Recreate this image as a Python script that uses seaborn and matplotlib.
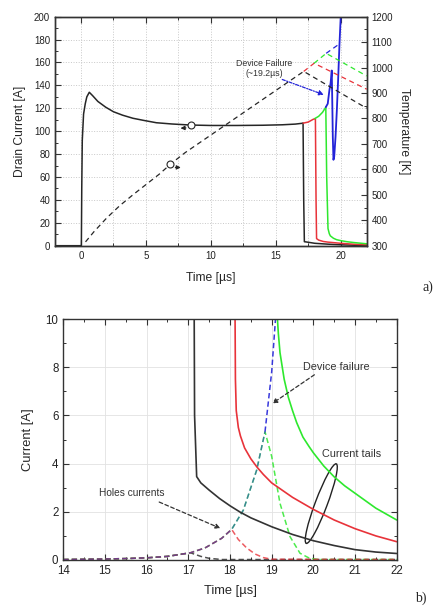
import numpy as np
import seaborn as sns
import matplotlib
matplotlib.use("Agg")
import matplotlib.pyplot as plt
from matplotlib.patches import Ellipse
from matplotlib.transforms import ScaledTranslation
from matplotlib.ticker import MultipleLocator

# ---- panel a) drain current [A] ----
t_on = [-2, 0, 0.03, 0.06, 0.1, 0.2, 0.33, 0.45, 0.64, 0.9, 1.3, 1.9, 2.5, 3.2, 4.0,
        4.8, 5.8, 7.0, 8.4, 10, 12, 14, 15.5, 16.5, 17.1]
i_on = [0, 0, 0, 50, 92, 115, 124, 130, 134, 131, 126, 121, 117, 114, 111.3,
        109.5, 107.4, 106.3, 105.4, 105, 105, 105.2, 105.6, 106.2, 107]
t_blk = [17.1, 17.15, 17.2, 17.5, 18, 19, 20, 21, 22]
i_blk = [107, 40, 3.5, 3.0, 2.1, 1.35, 0.8, 0.42, 0.27]
t_red = [17.1, 17.5, 17.9, 18.05, 18.1, 18.14, 18.3, 18.65, 19, 20, 21, 22]
i_red = [107, 108, 110.5, 111, 40, 6.2, 4.9, 3.7, 3.15, 2.1, 1.3, 0.76]
t_grn = [18.0, 18.3, 18.6, 18.85, 18.92, 19.02, 19.12, 19.2, 19.44, 19.68, 20, 20.5, 21, 22]
i_grn = [111, 113, 116.5, 121, 60, 15, 10.5, 8.6, 6.5, 5.26, 4.43, 3.45, 2.77, 1.66]
t_blu = [18.85, 19.0, 19.13, 19.22, 19.27, 19.31, 19.35, 19.39, 19.44, 19.5, 19.6,
         19.7, 19.8, 19.9, 20.0, 20.05]
i_blu = [121, 124, 136, 142, 148, 153, 125, 95, 75, 78, 95, 118, 145, 175, 200, 215]

# ---- panel a) temperature [K] ----
t_tk = [0.35, 1, 2, 3, 4, 5, 6, 7, 8, 9, 10, 11, 12, 13, 14, 15, 16, 17.15, 22]
T_k = [315, 355, 410, 458, 500, 540, 580, 625, 665, 700, 735, 770, 805, 840, 875,
       910, 945, 985, 840]
t_tr = [17.15, 17.95, 22]
T_r = [985, 1017, 915]
t_tg = [17.95, 18.88, 22]
T_g = [1017, 1056, 967]
t_tb = [18.88, 19.95]
T_b = [1056, 1095]

# ---- panel b) current tails [A] ----
tb_blk = [17.14, 17.15, 17.2, 17.3, 17.5, 17.75, 18, 18.25, 18.5, 19, 19.5, 20, 20.5,
          21, 21.5, 22]
ib_blk = [10.5, 6, 3.46, 3.2, 2.9, 2.55, 2.25, 1.98, 1.75, 1.38, 1.06, 0.8, 0.6,
          0.43, 0.33, 0.27]
tb_red = [18.12, 18.13, 18.15, 18.2, 18.25, 18.35, 18.5, 18.65, 18.8, 19, 19.25, 19.5,
          20, 20.5, 21, 21.5, 22]
ib_red = [10.5, 7.5, 6.2, 5.5, 5.15, 4.65, 4.2, 3.85, 3.55, 3.2, 2.9, 2.6, 2.1,
          1.66, 1.3, 1.0, 0.76]
tb_grn = [19.12, 19.16, 19.2, 19.3, 19.4, 19.5, 19.6, 19.75, 19.9, 20, 20.25, 20.5,
          20.75, 21, 21.5, 22]
ib_grn = [10.5, 9.4, 8.6, 7.5, 6.75, 6.2, 5.7, 5.1, 4.7, 4.45, 3.9, 3.45, 3.08, 2.77,
          2.15, 1.66]

# holes currents (dashed)
th_rise = [14, 15, 15.5, 16, 16.5, 17.05]
ih_rise = [0.02, 0.04, 0.06, 0.09, 0.15, 0.3]
th_blk = [17.3, 17.5, 17.8, 22]
ih_blk = [0.15, 0.07, 0.02, 0.02]
th_red = [17.4, 17.8, 18.04, 18.2, 18.4, 18.6, 18.8, 19.0, 22]
ih_red = [0.5, 0.9, 1.27, 0.85, 0.5, 0.25, 0.1, 0.03, 0.02]
th_grn = [18.32, 18.64, 18.84, 19.0, 19.2, 19.44, 19.68, 19.9, 20.1, 22]
ih_grn = [2.07, 3.73, 5.32, 4.3, 2.35, 0.97, 0.28, 0.08, 0.02, 0.02]
th_blu = [19.0, 19.1]
ih_blu = [7.8, 10.2]

BLK, RED, GRN, BLU = "#262626", "#e8333a", "#2ee82e", "#2323d8"

sns.set_style("ticks")
plt.rcParams["font.family"] = ["Liberation Sans", "DejaVu Sans"]
plt.rcParams["xtick.direction"] = "in"
plt.rcParams["ytick.direction"] = "in"

fig = plt.figure(figsize=(4.34, 6.06), dpi=100)


def line(ax, x, y, color, lw=1.1, ls="-", alpha=1.0, dashes=None):
    sns.lineplot(x=x, y=y, ax=ax, color=color, lw=lw, linestyle=ls, alpha=alpha,
                 estimator=None, sort=False, errorbar=None)
    if dashes is not None:
        ax.lines[-1].set_dashes(dashes)


def frame(ax, fs):
    for s in ax.spines.values():
        s.set_color("#333333")
        s.set_linewidth(1.0)
    ax.tick_params(which="both", color="#333333", labelsize=fs, labelcolor="#222222")
    ax.tick_params(which="major", length=4, width=0.8)
    ax.tick_params(which="minor", length=2, width=0.7)


# ================= panel a =================
ax = fig.add_axes([55 / 434, 1 - 245.7 / 606, 311.7 / 434, 229 / 606])
ax2 = ax.twinx()

line(ax, t_on, i_on, BLK)
line(ax, t_blk, i_blk, BLK)
line(ax, t_red, i_red, RED)
line(ax, t_grn, i_grn, GRN)
line(ax, t_blu, i_blu, BLU, lw=1.3)

dash_a = (4, 3)
line(ax2, t_tk, T_k, BLK, lw=0.9, dashes=dash_a)
line(ax2, t_tr, T_r, RED, lw=0.9, dashes=dash_a)
line(ax2, t_tg, T_g, GRN, lw=0.9, dashes=dash_a)
line(ax2, t_tb, T_b, BLU, lw=0.9, dashes=dash_a)

ax.set_xlim(-2, 22)
ax.set_ylim(0, 200)
ax2.set_ylim(300, 1200)
ax.xaxis.set_major_locator(MultipleLocator(5))
ax.xaxis.set_minor_locator(MultipleLocator(2.5))
ax.yaxis.set_major_locator(MultipleLocator(20))
ax.yaxis.set_minor_locator(MultipleLocator(10))
ax2.yaxis.set_major_locator(MultipleLocator(100))
ax2.yaxis.set_minor_locator(MultipleLocator(50))
ax.tick_params(which="both", top=True)
ax.grid(True, which="both", axis="x", color="#c8c8c8", ls=":", lw=0.7)
ax.grid(True, which="major", axis="y", color="#c8c8c8", ls=":", lw=0.7)
frame(ax, 7)
frame(ax2, 7)
ax.set_xlabel("Time [\u00b5s]", fontsize=8.7, labelpad=8)
ax.set_ylabel("Drain Current [A]", fontsize=8.7, labelpad=6)
ax2.set_ylabel("Temperature [K]", fontsize=8.7, rotation=270, labelpad=12)

# circle markers with direction arrows
ax.plot([8.5], [105.4], "o", ms=5, mfc="white", mec=BLK, mew=0.8)
ax.annotate("", xy=(7.45, 102.5), xytext=(8.3, 103.0),
            arrowprops=dict(arrowstyle="-|>", color=BLK, lw=0.8, mutation_scale=6))
ax2.plot([6.86], [621], "o", ms=5, mfc="white", mec=BLK, mew=0.8)
ax2.annotate("", xy=(7.9, 607), xytext=(7.05, 608),
             arrowprops=dict(arrowstyle="-|>", color=BLK, lw=0.8, mutation_scale=6))

ax.text(14.1, 155, "Device Failure\n(~19.2\u00b5s)", fontsize=6.3, ha="center",
        va="center", color="#333333", linespacing=1.1)
ax.annotate("", xy=(18.9, 131), xytext=(15.3, 146),
            arrowprops=dict(arrowstyle="-|>", color=BLU, lw=0.9, ls=(0, (2.5, 1.2, 0.8, 1.2)),
                            mutation_scale=7))

# ================= panel b =================
bx = fig.add_axes([63.3 / 434, 1 - 560 / 606, 333.4 / 434, 241 / 606])

dash_b = (3.5, 2)
line(bx, th_rise + th_blk, ih_rise + ih_blk, BLK, lw=1.1, alpha=0.8, dashes=dash_b)
line(bx, th_rise + th_red[:3] + th_grn, ih_rise + ih_red[:3] + ih_grn, GRN, lw=1.1,
     alpha=0.85, dashes=dash_b)
line(bx, th_rise + th_red, ih_rise + ih_red, RED, lw=1.1, alpha=0.8, dashes=dash_b)
# blue shares the rising part with the others, then goes on alone
line(bx, th_rise + th_red[:3] + th_grn[:3], ih_rise + ih_red[:3] + ih_grn[:3], BLU,
     lw=1.1, alpha=0.5, dashes=dash_b)
line(bx, th_grn[2:3] + th_blu, ih_grn[2:3] + ih_blu, BLU, lw=1.1, alpha=0.9,
     dashes=dash_b)

line(bx, tb_blk, ib_blk, "#333333", lw=1.2)
line(bx, tb_red, ib_red, RED, lw=1.2)
line(bx, tb_grn, ib_grn, GRN, lw=1.2)

bx.set_xlim(14, 22)
bx.set_ylim(0, 10)
bx.xaxis.set_major_locator(MultipleLocator(1))
bx.xaxis.set_minor_locator(MultipleLocator(0.5))
bx.yaxis.set_major_locator(MultipleLocator(2))
bx.yaxis.set_minor_locator(MultipleLocator(1))
bx.tick_params(which="both", top=True, right=True)
bx.grid(True, which="major", color="#e2e2e2", ls="-", lw=0.6)
frame(bx, 8.3)
bx.set_xlabel("Time [\u00b5s]", fontsize=9.3, labelpad=6)
bx.set_ylabel("Current [A]", fontsize=9.3, labelpad=8)

bx.text(20.56, 8.02, "Device failure", fontsize=7.8, ha="center", va="center", color="#333333")
bx.annotate("", xy=(18.96, 6.43), xytext=(20.08, 7.75),
            arrowprops=dict(arrowstyle="-|>", color="#333333", lw=0.9, ls=(0, (3, 2)),
                            mutation_scale=7))
bx.text(15.64, 2.77, "Holes currents", fontsize=7.3, ha="center", va="center", color="#333333")
bx.annotate("", xy=(17.83, 1.27), xytext=(16.24, 2.45),
            arrowprops=dict(arrowstyle="-|>", color="#333333", lw=0.9, ls=(0, (3, 2)),
                            mutation_scale=7))
bx.text(20.92, 4.38, "Current tails", fontsize=7.8, ha="center", va="center", color="#333333")
ell = Ellipse((0, 0), width=0.85, height=0.12, angle=69.3, fill=False, ec="#222222", lw=1.0,
              transform=fig.dpi_scale_trans + ScaledTranslation(20.19, 2.34, bx.transData))
bx.add_patch(ell)

fig.text(428 / 434, 1 - 287 / 606, "a)", fontsize=10, family="Liberation Serif",
         ha="center", va="center")
fig.text(421 / 434, 1 - 598 / 606, "b)", fontsize=10, family="Liberation Serif",
         ha="center", va="center")

fig.savefig("out.png", dpi=100)
